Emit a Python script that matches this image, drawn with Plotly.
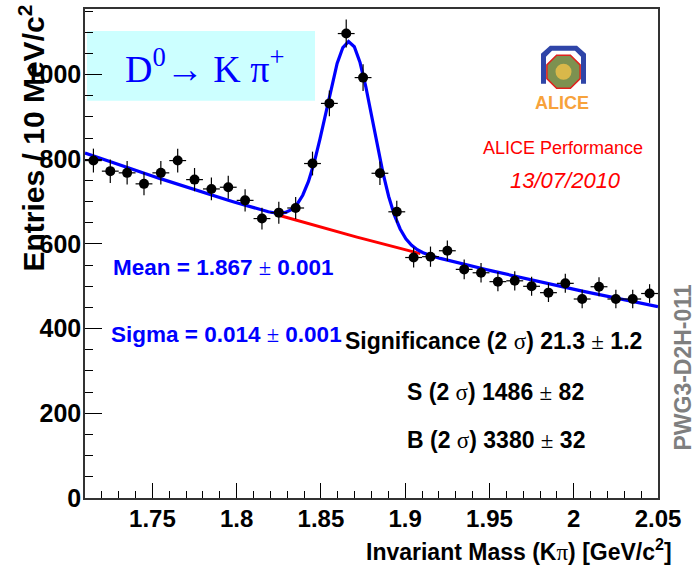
import numpy as np
import plotly.graph_objects as go

# ---------------- data ----------------
mass_bins = [1.715, 1.725, 1.735, 1.745, 1.755, 1.765, 1.775, 1.785, 1.795, 1.805,
             1.815, 1.825, 1.835, 1.845, 1.855, 1.865, 1.875, 1.885, 1.895, 1.905,
             1.915, 1.925, 1.935, 1.945, 1.955, 1.965, 1.975, 1.985, 1.995, 2.005,
             2.015, 2.025, 2.035, 2.045]
entries = [797, 772, 768, 742, 768, 797, 752, 730, 734, 703,
           660, 674, 685, 790, 932, 1097, 993, 767, 676, 568,
           570, 584, 540, 532, 511, 513, 500, 485, 507, 470,
           499, 470, 470, 483]
entry_err = [28.2, 27.8, 27.7, 27.2, 27.7, 28.2, 27.4, 27.0, 27.1, 26.5,
             25.7, 26.0, 26.2, 28.1, 30.5, 33.1, 31.5, 27.7, 26.0, 23.8,
             23.9, 24.2, 23.2, 23.1, 22.6, 22.6, 22.4, 22.0, 22.5, 21.7,
             22.3, 21.7, 21.7, 22.0]
bin_half_width = 0.005

# fit parameters (exponential background + gaussian)
fit_mean = 1.867
fit_sigma = 0.014
fit_amp = 457.0
bkg_norm = 815.0
bkg_slope = 1.733
fit_xmin, fit_xmax = 1.71, 2.05

x_ticks = [1.75, 1.8, 1.85, 1.9, 1.95, 2.0, 2.05]
x_ticktext = ["1.75", "1.8", "1.85", "1.9", "1.95", "2", "2.05"]
y_ticks = [0, 200, 400, 600, 800, 1000]
y_ticktext = ["0", "200", "400", "600", "800", "1000"]


def bkg(x):
    return bkg_norm * np.exp(-bkg_slope * (x - fit_xmin))


def total(x):
    return bkg(x) + fit_amp * np.exp(-0.5 * ((x - fit_mean) / fit_sigma) ** 2)


xf = np.linspace(fit_xmin, fit_xmax, 101)
xb = np.linspace(fit_mean - 3 * fit_sigma, fit_mean + 3 * fit_sigma, 30)

# ---------------- layout helpers ----------------
W, H = 695, 571
L, R, T, B = 85, 658, 7, 498


def P(px, py):
    return (px - L) / (R - L), (B - py) / (B - T)


fig = go.Figure()

fig.add_trace(go.Scatter(x=xb, y=bkg(xb), mode="lines",
                         line=dict(color="#ff0000", width=3), hoverinfo="skip"))
fig.add_trace(go.Scatter(x=xf, y=total(xf), mode="lines",
                         line=dict(color="#0000ff", width=3.2), hoverinfo="skip"))
fig.add_trace(go.Scatter(
    x=mass_bins, y=entries, mode="markers",
    marker=dict(color="black", size=10),
    error_y=dict(type="data", array=entry_err, color="black", thickness=1.2, width=0),
    error_x=dict(type="constant", value=bin_half_width, color="black", thickness=1.2, width=0),
))

FONT = "Liberation Sans"
SERIF = "Liberation Serif"

shapes = []
# cyan box
x0, y0 = P(87, 99)
x1, y1 = P(315, 29)
shapes.append(dict(type="rect", xref="paper", yref="paper", x0=x0, y0=y0, x1=x1, y1=y1,
                   fillcolor="#ccffff", line=dict(width=0), layer="below"))


def path(points):
    s = ""
    for i, (px, py) in enumerate(points):
        u, v = P(px, py)
        s += ("M" if i == 0 else "L") + f"{u:.5f},{v:.5f} "
    return s + "Z"


# ALICE logo approximation
magnet = [(550, 44), (577, 44), (586, 52), (586, 82), (581, 82), (581, 55), (575, 49),
          (552, 49), (546, 55), (546, 82), (541, 82), (541, 52)]
shapes.append(dict(type="path", xref="paper", yref="paper", path=path(magnet),
                   fillcolor="#2f45a8", line=dict(width=0)))
cx, cy, rr = 563.5, 70.0, 18.0
octo = [(cx + rr * np.cos(np.pi / 8 + k * np.pi / 4), cy + rr * np.sin(np.pi / 8 + k * np.pi / 4))
        for k in range(8)]
shapes.append(dict(type="path", xref="paper", yref="paper", path=path(octo),
                   fillcolor="#7d9150", line=dict(color="#e0201c", width=1.5)))
u0, v0 = P(cx - 8, cy + 8)
u1, v1 = P(cx + 8, cy - 8)
shapes.append(dict(type="circle", xref="paper", yref="paper", x0=u0, y0=v0, x1=u1, y1=v1,
                   fillcolor="#d9b84a", line=dict(width=0)))

annotations = []


def ann(text, px, py, size, color="black", bold=True, italic=False, family=FONT,
        xanchor="center", angle=0):
    u, v = P(px, py)
    annotations.append(dict(text=text, x=u, y=v, xref="paper", yref="paper",
                            xanchor=xanchor, yanchor="middle", showarrow=False,
                            textangle=angle,
                            font=dict(family=family, size=size, color=color,
                                      weight="bold" if bold else "normal",
                                      style="italic" if italic else "normal")))


sig = f"<span style='font-family:{SERIF};font-weight:normal'>σ</span>"
pm = f"<span style='font-family:{SERIF};font-weight:normal'>±</span>"
pi = f"<span style='font-family:{SERIF};font-weight:normal'>π</span>"

ann("D<sup>0</sup>→ K π<sup>+</sup>", 204, 64, 38, color="#0000ff", bold=False, family=SERIF)
ann(f"Mean = 1.867 {pm} 0.001", 223, 267, 22.5, color="#0000ff")
ann(f"Sigma = 0.014 {pm} 0.001", 226, 334, 22.5, color="#0000ff")
ann(f"Significance (2 {sig}) 21.3 {pm} 1.2", 493, 340, 23)
ann(f"S (2 {sig}) 1486 {pm} 82", 495, 392, 23)
ann(f"B (2 {sig}) 3380 {pm} 32", 496, 440, 23)
ann("ALICE Performance", 563, 147, 18, color="#ff0000", bold=False)
ann("13/07/2010", 565, 179, 22, color="#ff0000", bold=False, italic=True)
ann("ALICE", 562, 101, 18, color="#f7a23b")
ann("PWG3-D2H-011", 683, 367, 23, color="#7f7f7f", angle=-90)
ann("Entries / 10 MeV/c<sup>2</sup>", 32, 137, 30, angle=-90)
ann(f"Invariant Mass (K{pi}) [GeV/c<sup>2</sup>]", 674, 550, 23, xanchor="right")

fig.update_layout(
    width=W, height=H,
    margin=dict(l=L, r=W - R, t=T, b=H - B),
    paper_bgcolor="white", plot_bgcolor="white",
    showlegend=False,
    shapes=shapes, annotations=annotations,
    xaxis=dict(range=[fit_xmin, fit_xmax], tickmode="array", tickvals=x_ticks, ticktext=x_ticktext,
               ticks="inside", ticklen=15, tickwidth=1, tickcolor="black",
               minor=dict(tickmode="linear", tick0=1.71, dtick=0.01, ticks="inside", ticklen=7,
                          tickcolor="black", tickwidth=1, showgrid=False),
               showline=True, linecolor="#333333", linewidth=1.5, mirror=True,
               showgrid=False, zeroline=False, ticklabelstandoff=-2,
               tickfont=dict(family=FONT, size=24, color="black", weight="bold")),
    yaxis=dict(range=[0, 1155], tickmode="array", tickvals=y_ticks, ticktext=y_ticktext,
               ticks="inside", ticklen=17, tickwidth=1, tickcolor="black",
               minor=dict(tickmode="linear", tick0=0, dtick=50, ticks="inside", ticklen=8,
                          tickcolor="black", tickwidth=1, showgrid=False),
               showline=True, linecolor="#333333", linewidth=1.5, mirror=True,
               showgrid=False, zeroline=False, ticklabelstandoff=-3,
               tickfont=dict(family=FONT, size=25, color="black", weight="bold")),
)

fig.write_html("out.html")
